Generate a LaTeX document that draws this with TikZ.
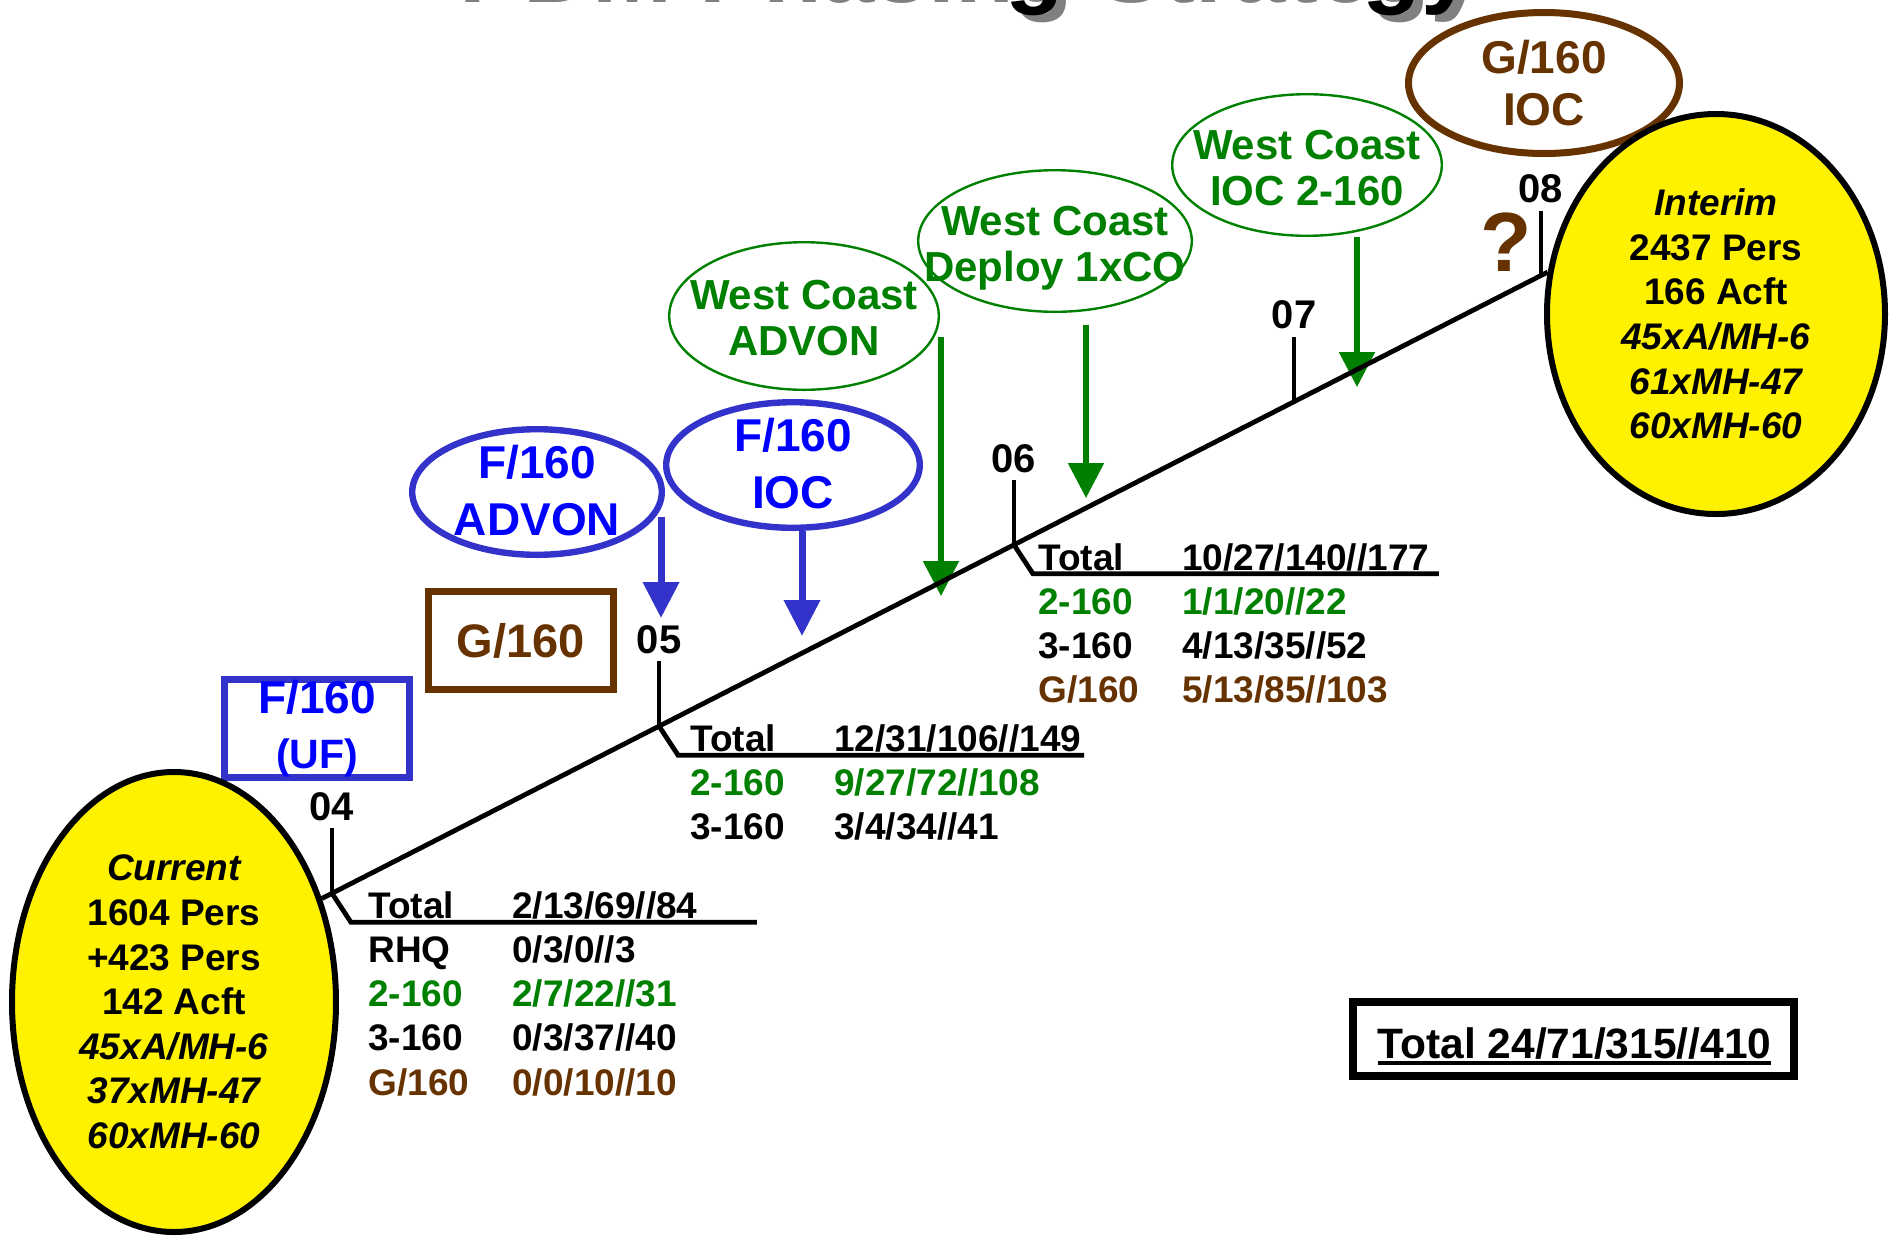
\documentclass[tikz,border=0pt]{standalone}
\usepackage{fontspec}
\setmainfont{Liberation Sans}
\usetikzlibrary{arrows.meta,positioning,calc,shapes.geometric}

\definecolor{fline}{RGB}{51,51,204}
\definecolor{ftext}{RGB}{0,0,255}
\definecolor{wcgreen}{RGB}{0,128,0}
\definecolor{gbrown}{RGB}{102,51,0}
\newsavebox{\ulsave}
\newcommand{\thickul}[1]{\sbox{\ulsave}{#1}\rlap{\rule[-3.5pt]{\wd\ulsave}{2pt}}\usebox{\ulsave}}

\begin{document}
\begin{tikzpicture}[
  x=0.5pt, y=-0.5pt,
  font=\bfseries,
  tline/.style ={line width=2.4pt},
  ttl/.style   ={anchor=base west, inner sep=0pt, font=\fontsize{48}{56}\selectfont\bfseries},
  yr/.style    ={inner sep=0pt, font=\fontsize{20}{24}\selectfont\bfseries},
  tbl/.style   ={anchor=base west, inner sep=0pt, font=\fontsize{18.5}{22.15}\selectfont\bfseries},
  big/.style   ={ellipse, draw, line width=3pt, fill=yellow, inner sep=0pt, align=center,
                 font=\fontsize{18.5}{22.3}\selectfont\bfseries},
  fbox/.style  ={draw, line width=3.5pt, inner sep=0pt, minimum width=92.5pt, minimum height=49pt, align=center},
  oval/.style  ={ellipse, draw, inner sep=0pt},
  fovl/.style  ={oval, draw=fline, line width=3.2pt, minimum width=124.8pt, minimum height=62.8pt},
  wovl/.style  ={oval, draw=wcgreen, line width=1.2pt, minimum width=134.8pt, minimum height=70.8pt},
  ftxt/.style  ={align=center, inner sep=0pt, text=ftext, font=\fontsize{23}{28.5}\selectfont\bfseries},
  wtxt/.style  ={align=center, inner sep=0pt, text=wcgreen, font=\fontsize{21}{23.2}\selectfont\bfseries},
  gtxt/.style  ={align=center, inner sep=0pt, text=gbrown, font=\fontsize{23}{26}\selectfont\bfseries},
  barrow/.style={-{Triangle[length=18pt,width=17.5pt]}, fline, line width=3.5pt},
  garrow/.style={-{Triangle[length=17.5pt,width=17.5pt]}, wcgreen, line width=2.75pt},
  qmark/.style ={anchor=base, inner sep=0pt, text=gbrown, font=\fontsize{42}{48}\selectfont\bfseries},
  totbox/.style={draw, line width=4pt, minimum width=220.5pt, minimum height=37pt},
  tot/.style   ={anchor=base, inner sep=0pt, font=\fontsize{21.25}{25}\selectfont\bfseries},
]
\useasboundingbox (0,0) rectangle (1892,1238);

%% ---------------- title, cut off at the top ----------------
\node[ttl, gray] (ttlshade) at (459,2) {PDM Phasing Strategy};
\node[ttl] (ttl) at (450,-5) {PDM Phasing Strategy};

%% ---------------- unit boxes ----------------
\node[fbox, draw=fline, text=ftext, font=\fontsize{23}{27.5}\selectfont\bfseries] (fuf) at (317,728.5)
  {F/160\\{\fontsize{20.5}{27.5}\selectfont (UF)}};
\node[fbox, draw=gbrown, text=gbrown, font=\fontsize{23.5}{28}\selectfont\bfseries] (gbox) at (521,640.5) {G/160};

%% ---------------- milestone ovals ----------------
\node[fovl] (fadv) at (537,492) {};
\node[ftxt] (fadvt) at ($(fadv)+(0,-1)$) {F/160\\ADVON};
\node[fovl, minimum width=126.8pt] (fioc) at (793,465) {};
\node[ftxt] (fioct) at ($(fioc)+(0,-1)$) {F/160\\IOC};

\node[wovl, minimum height=73.8pt] (wcadv) at (804,316) {};
\node[wtxt] (wcadvt) at ($(wcadv)+(0,2)$) {West Coast\\ADVON};
\node[wovl, minimum width=136.8pt] (wcdep) at (1055,241) {};
\node[wtxt] (wcdept) at ($(wcdep)+(0,7)$) {West Coast\\Deploy 1xCO};
\node[wovl] (wcioc) at (1307,165) {};
\node[wtxt] (wciot) at ($(wcioc)+(0,3)$) {West Coast\\IOC 2-160};

\node[oval, draw=gbrown, line width=3.5pt, minimum width=135.5pt, minimum height=70.5pt] (gioc) at (1544,83) {};
\node[gtxt] (gioct) at (gioc) {G/160\\IOC};

%% ---------------- arrows onto the timeline ----------------
\coordinate (fadvtip)  at (661,618);
\coordinate (fioctip)  at (802,636);
\coordinate (wcadvtip) at (941,596);
\coordinate (wcdeptip) at (1086,498);
\coordinate (wcioctip) at (1357,387);

\draw[barrow] (fadv.348 -| fadvtip) -- (fadvtip);
\draw[barrow] (fioc.south -| fioctip) -- (fioctip);
\draw[garrow] (wcadv.351 -| wcadvtip) -- (wcadvtip);
\draw[garrow] ([yshift=-6pt]wcdep.south -| wcdeptip) -- (wcdeptip);
\draw[garrow] (wcioc.south -| wcioctip) -- (wcioctip);

%% ---------------- end states ----------------
\node[big, minimum width=162pt, minimum height=230pt] (now) at (174,1002)
  {\itshape Current\\1604 Pers\\+423 Pers\\142 Acft\\\itshape 45xA/MH-6\\\itshape 37xMH-47\\\itshape 60xMH-60};
\node[big, minimum width=169pt, minimum height=200pt] (interim) at (1716,314)
  {\itshape Interim\\2437 Pers\\166 Acft\\\itshape 45xA/MH-6\\\itshape 61xMH-47\\\itshape 60xMH-60};

%% ---------------- timeline ----------------
\draw[tline] (now.35) -- (interim.166);
\foreach \yr/\t in {04/0.0083,05/0.2751,06/0.5646,07/0.7931,08/0.9945}{
  \coordinate (y\yr) at ($(now.35)!\t!(interim.166)$);
  \draw[tline] (y\yr) -- ++(0,-65) coordinate (top\yr);
  \node[yr, above=3.5pt of top\yr] (l\yr) {\yr};
}
\foreach \yr in {04,05,06}{\draw[tline] (y\yr) -- ++(19,29) -- ++(406,0);}

\node[qmark] (qm) at (1506,271) {?};

%% ---------------- yearly totals ----------------
\node[tbl] (tab04) at (368,918) {\begin{tabular}[t]{@{}p{72pt}@{}l@{}}
  Total & 2/13/69//84\\
  RHQ & 0/3/0//3\\
  \textcolor{wcgreen}{2-160} & \textcolor{wcgreen}{2/7/22//31}\\
  3-160 & 0/3/37//40\\
  \textcolor{gbrown}{G/160} & \textcolor{gbrown}{0/0/10//10}
\end{tabular}};

\node[tbl] (tab05) at (690,751) {\begin{tabular}[t]{@{}p{72pt}@{}l@{}}
  Total & 12/31/106//149\\
  \textcolor{wcgreen}{2-160} & \textcolor{wcgreen}{9/27/72//108}\\
  3-160 & 3/4/34//41
\end{tabular}};

\node[tbl] (tab06) at (1038,570) {\begin{tabular}[t]{@{}p{72pt}@{}l@{}}
  Total & 10/27/140//177\\
  \textcolor{wcgreen}{2-160} & \textcolor{wcgreen}{1/1/20//22}\\
  3-160 & 4/13/35//52\\
  \textcolor{gbrown}{G/160} & \textcolor{gbrown}{5/13/85//103}
\end{tabular}};

%% ---------------- grand total ----------------
\node[totbox] (grand) at (1573.5,1039) {};
\node[tot] (grandt) at (1574.5,1058) {\thickul{Total 24/71/315//410}};

\end{tikzpicture}
\end{document}
